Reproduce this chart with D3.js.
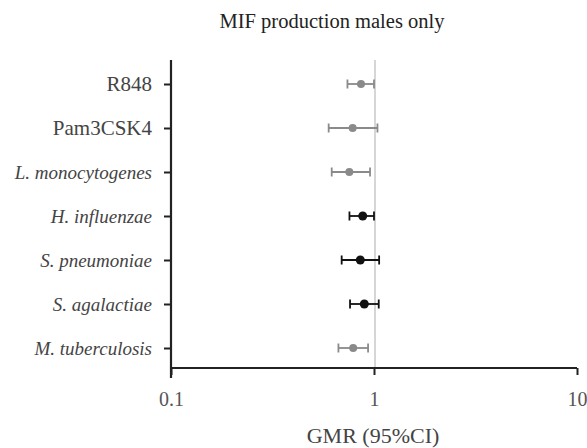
<!DOCTYPE html>
<html><head><meta charset="utf-8">
<script src="https://cdn.jsdelivr.net/npm/d3@7"></script>
<style>body{margin:0;background:#fff}</style>
</head><body>
<script>
const categories = ["R848","Pam3CSK4","L. monocytogenes","H. influenzae","S. pneumoniae","S. agalactiae","M. tuberculosis"];
const italicLabel = [false,false,true,true,true,true,true];
const gmr   = [0.863,0.785,0.756,0.88,0.856,0.896,0.79];
const lower = [0.740,0.598,0.619,0.757,0.693,0.762,0.668];
const upper = [1.00,1.04,0.956,1.00,1.06,1.055,0.935];
const significant = [false,false,false,true,true,true,false];
const xTicks = [0.1,1,10];
const title = "MIF production males only";
const xTitle = "GMR (95%CI)";

const W=587,H=448;
const svg=d3.select("body").append("svg").attr("width",W).attr("height",H);
const font="Times New Roman, Liberation Serif, DejaVu Serif, Noto Serif, serif";
const x=d3.scaleLog().domain([0.1,10]).range([171,577]);
const y=d3.scalePoint().domain(categories).range([84,348]);

svg.append("line").attr("x1",x(1)+1).attr("x2",x(1)+1).attr("y1",60).attr("y2",368)
  .attr("stroke","#c8c8c8").attr("stroke-width",1.5);

const xa=svg.append("g").attr("transform","translate(0,368)")
  .call(d3.axisBottom(x).tickValues(xTicks).tickFormat(d3.format("~g")).tickSize(7).tickPadding(17));
xa.select(".domain").attr("stroke","#222").attr("stroke-width",2.2).attr("d",`M${x(0.1)},0H${x(10)}`);
xa.selectAll(".tick line").attr("stroke","#222").attr("stroke-width",2);
xa.selectAll("text").style("font-family",font).attr("font-size",20).attr("fill","#555");

const ya=svg.append("g").attr("transform",`translate(${x(0.1)},0)`)
  .call(d3.axisLeft(y).tickSize(7).tickPadding(12));
ya.select(".domain").attr("stroke","#222").attr("stroke-width",2.2).attr("d","M0,60V378");
ya.selectAll(".tick line").attr("stroke","#222").attr("stroke-width",2);
ya.selectAll("text").style("font-family",font).attr("font-size",(d,i)=>italicLabel[i]?19:21).attr("fill","#444")
  .attr("font-style",(d,i)=>italicLabel[i]?"italic":"normal");

const g=svg.append("g");
categories.forEach((c,i)=>{
  const col=significant[i]?"#111":"#8a8a8a";
  const cy=y(c);
  g.append("line").attr("x1",x(lower[i])).attr("x2",x(upper[i])).attr("y1",cy).attr("y2",cy).attr("stroke",col).attr("stroke-width",1.8);
  [lower[i],upper[i]].forEach(v=>g.append("line").attr("x1",x(v)).attr("x2",x(v)).attr("y1",cy-4.5).attr("y2",cy+4.5).attr("stroke",col).attr("stroke-width",1.8));
  g.append("circle").attr("cx",x(gmr[i])).attr("cy",cy).attr("r",significant[i]?4.5:4).attr("fill",col);
});

svg.append("text").attr("x",332).attr("y",28).attr("text-anchor","middle").style("font-family",font)
  .attr("font-size",20.5).attr("fill","#222").text(title);
svg.append("text").attr("x",373).attr("y",443).attr("text-anchor","middle").style("font-family",font)
  .attr("font-size",22).attr("fill","#444").text(xTitle);
</script>
</body></html>
